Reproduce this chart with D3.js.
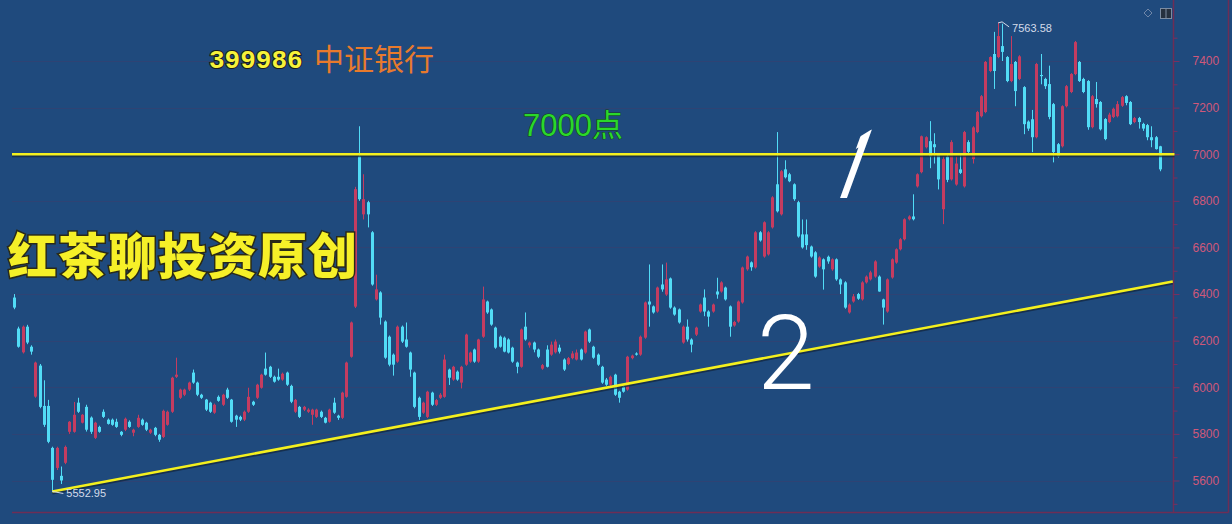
<!DOCTYPE html>
<html><head><meta charset="utf-8">
<script src="https://cdn.jsdelivr.net/npm/d3@7/dist/d3.min.js"></script>
<style>html,body{margin:0;padding:0;background:#1f4a7d;overflow:hidden}svg{display:block}</style>
</head><body><svg id="c" width="1232" height="524"></svg>
<script>
const open = [
6385,6252,6150,6260,6174,5960,6093,5920,5920,5740,
5654,5620,5676,5809,5809,5934,5848,5916,5870,5783,
5830,5895,5861,5861,5852,5809,5818,5852,5805,5830,
5861,5848,5805,5826,5796,5787,5839,5895,6045,5955,
5968,5990,6063,6020,5968,5947,5934,5891,5959,5925,
5990,5947,5878,5873,5861,5895,5938,5955,5998,6080,
6088,6045,6045,6033,6063,6006,5895,5916,5904,5895,
5882,5873,5895,5869,5852,5934,5878,5869,5959,6131,
6346,6991,6742,6794,6665,6377,6407,6282,6217,6140,
6110,6260,6205,6149,6063,5955,5891,5873,5977,5925,
5955,5959,6076,6033,6067,6020,6097,6110,6162,6110,
6217,6368,6334,6256,6217,6213,6205,6170,6106,6088,
6260,6180,6192,6162,6080,6162,6140,6150,6170,6119,
6100,6125,6119,6162,6149,6248,6174,6140,6088,6033,
6011,6054,5981,6002,5990,6125,6145,6140,6213,6368,
6347,6325,6441,6398,6467,6342,6334,6192,6260,6205,
6226,6325,6385,6325,6325,6411,6411,6428,6347,6265,
6282,6364,6506,6536,6514,6665,6561,6570,6686,6871,
6742,6935,6914,6871,6794,6656,6656,6604,6579,6518,
6549,6560,6506,6549,6463,6450,6321,6368,6400,6377,
6450,6463,6475,6475,6377,6325,6471,6535,6592,6635,
6721,6733,6862,6923,7030,7056,7043,7000,6764,6990,
6892,6870,6935,6862,7052,6979,7095,7163,7181,7357,
7430,7417,7464,7417,7314,7396,7323,7288,7140,7150,
7073,7340,7323,7301,7215,7043,7034,7206,7267,7344,
7396,7323,7314,7116,7237,7224,7151,7138,7160,7163,
7208,7249,7224,7138,7155,7130,7125,7073,7073,7034];
const high = [
6400,6260,6265,6268,6180,6110,6100,6030,5946,5745,
5745,5660,5750,5855,5937,5955,5885,5925,5875,5852,
5835,5905,5866,5866,5865,5812,5870,5858,5822,5882,
5866,5852,5822,5830,5800,5904,5900,6045,6127,5994,
5994,6024,6076,6024,5972,5950,5938,5930,5965,5972,
5998,5950,5882,5878,5900,5998,5942,6015,6058,6149,
6092,6050,6080,6063,6067,6011,5950,5920,5920,5910,
5908,5908,5900,5873,5908,5955,5882,5981,6110,6282,
6860,7120,6914,6800,6670,6483,6412,6287,6222,6145,
6265,6265,6278,6153,6067,5960,5938,5985,5981,5950,
5975,6140,6080,6092,6072,6092,6230,6153,6166,6208,
6432,6372,6338,6260,6222,6218,6210,6174,6110,6252,
6321,6196,6196,6166,6100,6180,6196,6205,6183,6124,
6130,6155,6162,6166,6243,6252,6178,6145,6092,6040,
6050,6058,5985,6006,6135,6140,6150,6222,6368,6527,
6351,6432,6527,6535,6471,6347,6338,6265,6291,6210,
6260,6359,6420,6330,6359,6470,6455,6432,6351,6285,
6372,6518,6565,6540,6670,6670,6712,6670,6820,7095,
6932,6974,6920,6875,6800,6720,6720,6608,6584,6562,
6553,6565,6553,6553,6467,6455,6360,6400,6405,6455,
6480,6500,6545,6480,6380,6467,6553,6596,6640,6725,
6738,6828,6918,7080,7077,7142,7090,7005,6990,7000,
7060,6990,7000,7100,7060,7120,7186,7254,7400,7420,
7525,7563.58,7560,7421,7507,7400,7425,7292,7145,7190,
7392,7430,7328,7380,7220,7048,7210,7297,7348,7486,
7400,7328,7318,7254,7310,7228,7155,7178,7200,7228,
7250,7253,7228,7160,7160,7135,7130,7120,7078,7036];
const low = [
6335,6170,6145,6185,6140,5955,5910,5830,5760,5552.95,
5645,5585,5670,5800,5805,5890,5845,5810,5800,5778,
5805,5868,5840,5835,5826,5790,5812,5826,5790,5826,
5835,5812,5800,5790,5766,5782,5835,5890,6040,5950,
5962,5984,6015,5962,5950,5898,5890,5886,5938,5920,
5950,5848,5830,5855,5855,5890,5920,5950,5994,6050,
6040,6020,6028,6028,6006,5932,5890,5868,5898,5890,
5839,5868,5868,5845,5848,5886,5860,5864,5955,6127,
6340,6800,6720,6686,6436,6372,6269,6122,6090,6050,
6105,6190,6170,6045,5910,5860,5886,5868,5920,5920,
5950,5955,6010,6028,6028,5995,6092,6105,6105,6105,
6212,6315,6264,6165,6170,6150,6145,6105,6060,6084,
6200,6170,6150,6125,6075,6085,6135,6145,6145,6070,
6095,6120,6115,6115,6144,6190,6122,6092,6015,6006,
6006,5963,5934,5977,5985,6120,6136,6135,6208,6260,
6316,6320,6410,6392,6337,6307,6273,6187,6196,6150,
6220,6320,6305,6260,6320,6380,6406,6372,6217,6260,
6277,6359,6500,6500,6509,6625,6556,6565,6681,6750,
6737,6896,6880,6800,6642,6595,6590,6556,6470,6513,
6419,6530,6500,6457,6400,6337,6316,6363,6375,6372,
6445,6458,6470,6410,6269,6320,6466,6530,6587,6630,
6716,6716,6857,6918,7025,6940,6960,6849,6700,6880,
6887,6865,6915,6857,7000,6960,7090,7158,7176,7352,
7280,7412,7400,7309,7309,7206,7318,7086,7100,7009,
7068,7300,7280,7150,6965,6985,7029,7201,7262,7339,
7310,7262,7105,7111,7200,7102,7060,7133,7155,7158,
7203,7210,7125,7133,7110,7100,7060,7030,7020,6927];
const close = [
6342,6174,6260,6192,6153,6106,5916,5839,5766,5603,
5740,5600,5744,5852,5882,5895,5882,5818,5809,5848,
5809,5873,5843,5839,5830,5796,5865,5830,5818,5869,
5839,5818,5818,5796,5775,5899,5895,6041,6054,5990,
5990,6020,6020,5968,5955,5904,5895,5925,5942,5968,
5955,5852,5861,5861,5895,5959,5925,6011,6054,6054,
6045,6024,6033,6058,6011,5938,5946,5873,5916,5904,
5904,5904,5873,5848,5904,5891,5869,5977,6106,6278,
6850,6807,6807,6742,6441,6420,6299,6127,6097,6097,
6260,6196,6174,6076,5916,5873,5934,5981,5925,5945,
5968,6119,6041,6088,6033,6088,6226,6149,6110,6205,
6377,6321,6269,6170,6174,6153,6149,6110,6088,6248,
6205,6192,6162,6131,6095,6088,6183,6196,6153,6076,
6125,6145,6149,6119,6239,6196,6127,6097,6020,6011,
6045,5968,5955,5981,6131,6136,6140,6217,6364,6355,
6321,6428,6420,6463,6342,6312,6278,6260,6205,6183,
6256,6355,6325,6303,6355,6398,6450,6377,6260,6280,
6368,6514,6561,6515,6665,6630,6708,6665,6815,6755,
6927,6901,6884,6807,6647,6600,6610,6561,6475,6557,
6506,6540,6549,6463,6441,6342,6355,6390,6380,6450,
6475,6493,6540,6411,6342,6463,6549,6592,6635,6721,
6733,6721,6914,7077,7073,6991,7030,6892,6979,6890,
7052,6960,6920,7095,7010,7115,7181,7249,7396,7417,
7357,7507,7439,7314,7387,7271,7420,7129,7110,7073,
7387,7335,7292,7160,7009,6991,7206,7292,7344,7481,
7314,7267,7116,7249,7215,7107,7065,7170,7195,7215,
7245,7220,7129,7155,7138,7110,7073,7060,7022,6935];

const yTicks = [5600,5800,6000,6200,6400,6600,6800,7000,7200,7400];
const yMinorTicks = [5500,5700,5900,6100,6300,6500,6700,6900,7100,7300,7500];
const resistance = 7000;
const trendPoints = [[9, 5552.95], [272, 6454]];
const titleCode = "399986";
const titleName = "中证银行";
const levelLabel = "7000点";
const watermark = "红茶聊投资原创";
const marks = ["1", "2"];

const svg = d3.select("#c");
const W = 1232, H = 524;
const N = open.length;
const x = d3.scaleLinear().domain([0, N - 1]).range([14, 1160]);
const y = d3.scaleLinear().domain([5600, 7400]).range([480.5, 61]);
const axisX = 1173.5;

const defs = svg.append("defs");
defs.append("clipPath").attr("id", "oneClip").attr("clipPathUnits", "userSpaceOnUse")
  .append("rect").attr("x", -4).attr("y", -110).attr("width", 30).attr("height", 130);

svg.append("rect").attr("width", W).attr("height", H).attr("fill", "#1f4a7d");

// grid
svg.append("g").selectAll("line").data(yTicks).join("line")
  .attr("x1", 12).attr("x2", axisX)
  .attr("y1", d => Math.round(y(d)) + 0.5).attr("y2", d => Math.round(y(d)) + 0.5)
  .attr("stroke", "#3b3e6e").attr("stroke-opacity", 0.55);

// frame
svg.append("line").attr("x1", 12).attr("x2", 1228.5).attr("y1", 512.5).attr("y2", 512.5)
  .attr("stroke", "#6e2e56").attr("stroke-width", 1.5);
svg.append("line").attr("x1", 1228.5).attr("x2", 1228.5).attr("y1", 0).attr("y2", 512.5)
  .attr("stroke", "#6e2e56").attr("stroke-width", 1.5);
svg.append("line").attr("x1", axisX).attr("x2", axisX).attr("y1", 0).attr("y2", 512.5)
  .attr("stroke", "#6e2e56").attr("stroke-width", 1.5);

// axis
const ax = svg.append("g").attr("transform", `translate(${axisX},0)`)
  .call(d3.axisRight(y).tickValues(yTicks).tickSize(6).tickPadding(13).tickFormat(d3.format("d")));
ax.select(".domain").remove();
ax.selectAll(".tick line").attr("stroke", "#7a3060");
ax.selectAll(".tick text").attr("fill", "#d0587a").attr("font-family", "Liberation Sans, Arial, sans-serif")
  .attr("font-size", 12);
const ax2 = svg.append("g").attr("transform", `translate(${axisX},0)`)
  .call(d3.axisRight(y).tickValues(yMinorTicks).tickSize(4).tickFormat(""));
ax2.select(".domain").remove();
ax2.selectAll(".tick line").attr("stroke", "#7a3060");

// candles
const idx = d3.range(N);
const up = i => close[i] >= open[i];
const red = "#c43c60", cyan = "#52dcf6";
const cg = svg.append("g");
cg.selectAll("line").data(idx).join("line")
  .attr("x1", i => Math.round(x(i)) + 0.5).attr("x2", i => Math.round(x(i)) + 0.5)
  .attr("y1", i => y(high[i])).attr("y2", i => y(low[i]))
  .attr("stroke", i => up(i) ? red : cyan).attr("stroke-width", 1);
cg.selectAll("rect").data(idx).join("rect")
  .attr("x", i => Math.round(x(i)) - 1)
  .attr("width", 3)
  .attr("y", i => y(Math.max(open[i], close[i])))
  .attr("height", i => Math.max(1, Math.abs(y(open[i]) - y(close[i]))))
  .attr("fill", i => up(i) ? red : cyan);

// resistance line
const lx1 = 12, lx2 = axisX + 1;
svg.append("line").attr("x1", lx1).attr("x2", lx2).attr("y1", y(resistance) + 1.8).attr("y2", y(resistance) + 1.8)
  .attr("stroke", "#12243a").attr("stroke-width", 2.5).attr("stroke-opacity", 0.7);
svg.append("line").attr("x1", lx1).attr("x2", lx2).attr("y1", y(resistance)).attr("y2", y(resistance))
  .attr("stroke", "#f4f01e").attr("stroke-width", 2.6);

// trend line
const [p0, p1] = trendPoints;
svg.append("line").attr("x1", x(p0[0])).attr("y1", y(p0[1]) + 1.8).attr("x2", x(p1[0])).attr("y2", y(p1[1]) + 1.8)
  .attr("stroke", "#12243a").attr("stroke-width", 2.5).attr("stroke-opacity", 0.7);
svg.append("line").attr("x1", x(p0[0])).attr("y1", y(p0[1])).attr("x2", x(p1[0])).attr("y2", y(p1[1]))
  .attr("stroke", "#f4f01e").attr("stroke-width", 2.6);

// high / low labels
const iMax = d3.maxIndex(high), iMin = d3.minIndex(low);
const lab = "#d4dcea";
svg.append("path").attr("d", `M${x(iMax)},${y(high[iMax])} l4,-1 l7,5`).attr("fill", "none").attr("stroke", lab);
svg.append("text").attr("x", x(iMax) + 14).attr("y", y(high[iMax]) + 9)
  .attr("fill", lab).attr("font-family", "Liberation Sans, Arial, sans-serif").attr("font-size", 11)
  .text(d3.format(".2f")(high[iMax]));
svg.append("path").attr("d", `M${x(iMin)},${y(low[iMin])} l11,2`).attr("fill", "none").attr("stroke", lab);
svg.append("text").attr("x", x(iMin) + 14).attr("y", y(low[iMin]) + 6)
  .attr("fill", lab).attr("font-family", "Liberation Sans, Arial, sans-serif").attr("font-size", 11)
  .text(d3.format(".2f")(low[iMin]));

// top-right icons
svg.append("path").attr("d", "M1148,9 l4,4 l-4,4 l-4,-4 z").attr("fill", "none").attr("stroke", "#6f86a8");
svg.append("rect").attr("x", 1160.5).attr("y", 8.5).attr("width", 11).attr("height", 10)
  .attr("fill", "#26303e").attr("stroke", "#7c8ca2");
svg.append("line").attr("x1", 1166).attr("x2", 1166).attr("y1", 9).attr("y2", 18).attr("stroke", "#7c8ca2");

// titles
svg.append("text").attr("x", 209).attr("y", 68).text(titleCode)
  .attr("font-family", "Liberation Mono, DejaVu Sans Mono, monospace").attr("font-weight", "bold").attr("font-size", 26)
  .attr("fill", "#f6f23a").attr("stroke", "#1a1a1a").attr("stroke-width", 2).attr("paint-order", "stroke");
svg.append("text").attr("x", 314).attr("y", 70).text(titleName)
  .attr("font-family", "Noto Sans CJK SC, sans-serif").attr("font-size", 30)
  .attr("fill", "#e87a2c");
svg.append("text").attr("x", 523).attr("y", 136).text(levelLabel)
  .attr("font-family", "Liberation Sans, Noto Sans CJK SC, sans-serif").attr("font-size", 31)
  .attr("fill", "#2ad82a").attr("stroke", "#164016").attr("stroke-width", 1).attr("paint-order", "stroke");
svg.append("text").attr("x", 8).attr("y", 274).text(watermark)
  .attr("font-family", "Noto Sans CJK SC, sans-serif").attr("font-weight", 900).attr("font-size", 49)
  .attr("letter-spacing", 1)
  .attr("fill", "#f6f028").attr("stroke", "#2a2a18").attr("stroke-width", 3).attr("paint-order", "stroke");

// handwritten marks
svg.append("text").attr("transform", "translate(842,198) skewX(-20)").attr("text-anchor", "middle")
  .attr("clip-path", "url(#oneClip)")
  .text(marks[0]).attr("font-family", "Roboto, sans-serif").attr("font-weight", 900).attr("font-size", 96)
  .attr("textLength", 24).attr("lengthAdjust", "spacingAndGlyphs")
  .attr("fill", "#ffffff");
svg.append("text").attr("x", 757).attr("y", 389).text(marks[1])
  .attr("font-family", "Roboto, sans-serif").attr("font-weight", 300).attr("font-size", 104)
  .attr("fill", "#ffffff");
</script></body></html>
